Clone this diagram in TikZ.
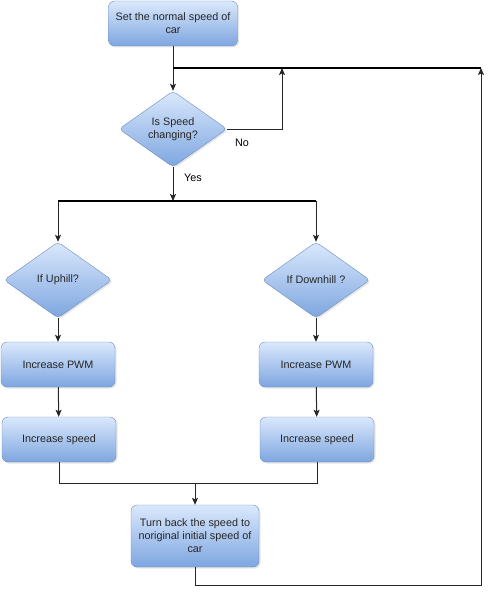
\documentclass[tikz,border=0pt]{standalone}
\usepackage{fontspec}
\setmainfont{Liberation Sans}
\usetikzlibrary{shapes.geometric, arrows.meta, shadows}
\definecolor{boxtop}{HTML}{DAE8FC}
\definecolor{boxbot}{HTML}{7EA6E0}
\definecolor{boxline}{HTML}{6C8EBF}
\definecolor{txt}{HTML}{262626}
\tikzstyle{procbox}=[rectangle, rounded corners=6pt, draw=boxline, top color=boxtop, bottom color=boxbot, drop shadow={opacity=0.2, shadow xshift=1.5pt, shadow yshift=-1.5pt}, align=center, inner sep=1pt, text=txt, font=\fontsize{10.8}{13}\selectfont]
\tikzstyle{decision}=[diamond, aspect=1.42, rounded corners=4pt, draw=boxline, top color=boxtop, bottom color=boxbot, drop shadow={opacity=0.2, shadow xshift=1.5pt, shadow yshift=-1.5pt}, align=center, inner sep=0pt, minimum width=108pt, minimum height=76pt, text=txt, font=\fontsize{10.8}{13}\selectfont]
\tikzstyle{flow}=[draw=black!85, line width=1pt]
\tikzstyle{bus}=[draw=black, line width=1.6pt]
\tikzstyle{arr}=[-{Stealth[length=7pt, width=6pt, inset=1.5pt]}]

\begin{document}
\begin{tikzpicture}[x=1pt, y=-1pt]
\useasboundingbox (0,0) rectangle (495,599);
\node [procbox, minimum width=129pt, minimum height=45pt] (set) at (173,23.5) {Set the normal speed of\\car};
\node [decision] (chg) at (173,129) {Is Speed\\changing?};
\node [decision] (up) at (58,280) {If Uphill?};
\node [decision] (down) at (316,280) {If Downhill ?};
\node [procbox, minimum width=114pt, minimum height=45pt] (pwm1) at (58,364.5) {Increase PWM};
\node [procbox, minimum width=114pt, minimum height=45pt] (pwm2) at (316,364.5) {Increase PWM};
\node [procbox, minimum width=114pt, minimum height=45pt] (spd1) at (59,439.5) {Increase speed};
\node [procbox, minimum width=114pt, minimum height=45pt] (spd2) at (317,439.5) {Increase speed};
\node [procbox, minimum width=128pt, minimum height=62pt] (back) at (195,536) {Turn back the speed to\\noriginal initial speed of\\car};
\node [font=\fontsize{10.8}{13}\selectfont] (no) at (242,143) {No};
\node [font=\fontsize{10.8}{13}\selectfont] (yes) at (193,178) {Yes};
\coordinate (j0) at (173,68); \coordinate (n1) at (282,129); \coordinate (n2) at (282,68);
\coordinate (top) at (481,68); \coordinate (y0) at (173,201);
\coordinate (b1) at (58,201); \coordinate (b2) at (316,201);
\coordinate (m1) at (59,483); \coordinate (m2) at (317,483); \coordinate (m0) at (195,483);
\coordinate (l1) at (195,585); \coordinate (l2) at (481,585);
\draw [flow, arr] (set) -- (chg);
\draw [bus] (j0) -- (top);
\draw [flow, arr] (chg.east) -- (n1) -- (n2);
\draw [flow, arr] (chg.south) -- (y0);
\draw [bus] (b1) -- (b2);
\draw [flow, arr] (b1) -- (up.north);
\draw [flow, arr] (b2) -- (down.north);
\draw [flow, arr] (up) -- (pwm1);
\draw [flow, arr] (down) -- (pwm2);
\draw [flow, arr] (pwm1) -- (spd1);
\draw [flow, arr] (pwm2) -- (spd2);
\draw [flow] (spd1) -- (m1) -- (m2) -- (spd2);
\draw [flow, arr] (m0) -- (back);
\draw [flow, arr] (back) -- (l1) -- (l2) -- (top);
\end{tikzpicture}
\end{document}
